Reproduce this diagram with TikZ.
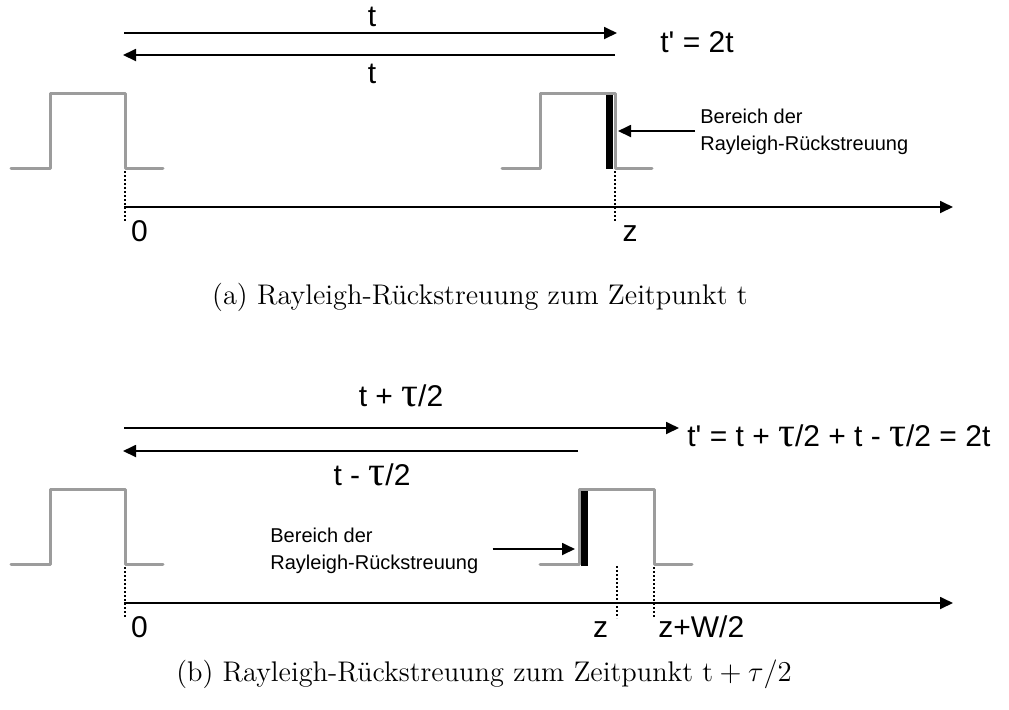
\documentclass[tikz,border=0pt]{standalone}
\usepackage{fontspec}
\usetikzlibrary{arrows.meta}
\newfontfamily\labelfont{Liberation Sans}[Ligatures=TeXOff]
\newfontfamily\taufont{Liberation Serif}[Ligatures=TeXOff]
\newcommand\ttau{{\taufont\fontsize{21}{21}\selectfont τ}}
\definecolor{pulsegray}{RGB}{156,156,156}

\begin{document}
\begin{tikzpicture}[x=0.5pt,y=-0.5pt,
  pulse/.style={draw=pulsegray,line width=1.5pt,line cap=round,line join=round},
  scatterbar/.style={draw=black,line width=3.5pt},
  tarrow/.style={draw=black,line width=0.9pt,-{Triangle[length=6.5pt,width=6pt]}},
  marker/.style={draw=black,line width=0.8pt,dash pattern=on 0.8pt off 1.2pt},
  biglabel/.style={font=\labelfont\fontsize{15}{18}\selectfont,inner sep=0pt,anchor=base},
  note/.style={font=\labelfont\fontsize{10}{13.5}\selectfont,align=left,inner sep=0pt},
  subcaption/.style={font=\fontsize{14.2}{17}\selectfont,inner sep=0pt,anchor=base}]
\useasboundingbox (0,0) rectangle (1009,709);

% ---------- (a) backscatter at time t ----------
\coordinate (a1s) at (124,33);  \coordinate (a1e) at (617,33);
\coordinate (a2s) at (615,55);  \coordinate (a2e) at (123,55);
\draw[tarrow] (a1s) -- (a1e);
\draw[tarrow] (a2s) -- (a2e);
\node[biglabel] (ta1) at (372,26) {t};
\node[biglabel] (ta2) at (372,83) {t};
\node[biglabel,anchor=base west] (teqa) at (660,52) {t' = 2t};

% pulses
\draw[pulse] (11,168) -- (50,168) -- (50,93) -- (125,93) -- (125,168) -- (163,168);
\draw[pulse] (502,168) -- (540,168) -- (540,93) -- (615,93) -- (615,168) -- (652,168);
\coordinate (bar1t) at (609.5,95); \coordinate (bar1b) at (609.5,169);
\draw[scatterbar] (bar1t) -- (bar1b);

% annotation
\node[note,anchor=west] (notea) at (700,132) {Bereich der\\Rayleigh-Rückstreuung};
\coordinate (notea-tip) at (618,131);
\draw[tarrow] ([xshift=-2.5pt,yshift=0.5pt]notea.west) -- (notea-tip);

% axis and markers
\coordinate (axa-s) at (124,207); \coordinate (axa-e) at (953,207);
\draw[tarrow] (axa-s) -- (axa-e);
\coordinate (m0a-t) at (125,171); \coordinate (m0a-b) at (125,222);
\coordinate (mza-t) at (615,171); \coordinate (mza-b) at (615,222);
\draw[marker] (m0a-t) -- (m0a-b);
\draw[marker] (mza-t) -- (mza-b);
\node[biglabel] (zeroa) at (139.5,241) {0};
\node[biglabel] (za) at (630,241) {z};

\node[subcaption] (capa) at (480,304) {(a) Rayleigh-Rückstreuung zum Zeitpunkt t};

% ---------- (b) backscatter at time t + tau/2 ----------
\coordinate (b1s) at (124,428);  \coordinate (b1e) at (679,428);
\coordinate (b2s) at (578,451);  \coordinate (b2e) at (123,451);
\draw[tarrow] (b1s) -- (b1e);
\draw[tarrow] (b2s) -- (b2e);
\node[biglabel] (tb1) at (401,406) {t + \ttau/2};
\node[biglabel] (tb2) at (372,485) {t - \ttau/2};
\node[biglabel,anchor=base west] (teqb) at (687,446) {t' = t + \ttau/2 + t - \ttau/2 = 2t};

% pulses
\draw[pulse] (11,564) -- (50,564) -- (50,489) -- (125,489) -- (125,564) -- (163,564);
\draw[pulse] (540,564) -- (579,564) -- (579,489) -- (654,489) -- (654,564) -- (692,564);
\coordinate (bar2t) at (584.5,491); \coordinate (bar2b) at (584.5,566);
\draw[scatterbar] (bar2t) -- (bar2b);

% annotation
\node[note,anchor=west] (noteb) at (270,551) {Bereich der\\Rayleigh-Rückstreuung};
\coordinate (noteb-tip) at (575,549);
\draw[tarrow] ([xshift=7pt,yshift=1pt]noteb.east) -- (noteb-tip);

% axis and markers
\coordinate (axb-s) at (124,603); \coordinate (axb-e) at (953,603);
\draw[tarrow] (axb-s) -- (axb-e);
\coordinate (m0b-t) at (125,567); \coordinate (m0b-b) at (125,618);
\coordinate (mzb-t) at (617,566); \coordinate (mzb-b) at (617,618);
\coordinate (mwb-t) at (654,567); \coordinate (mwb-b) at (654,618);
\draw[marker] (m0b-t) -- (m0b-b);
\draw[marker] (mzb-t) -- (mzb-b);
\draw[marker] (mwb-t) -- (mwb-b);
\node[biglabel] (zerob) at (139.5,637) {0};
\node[biglabel] (zb) at (600.5,637) {z};
\node[biglabel,anchor=base west] (zwb) at (658,637) {z+W/2};

\node[subcaption] (capb) at (484,681) {(b) Rayleigh-Rückstreuung zum Zeitpunkt $\mathrm{t}+\tau/2$};
\end{tikzpicture}
\end{document}
